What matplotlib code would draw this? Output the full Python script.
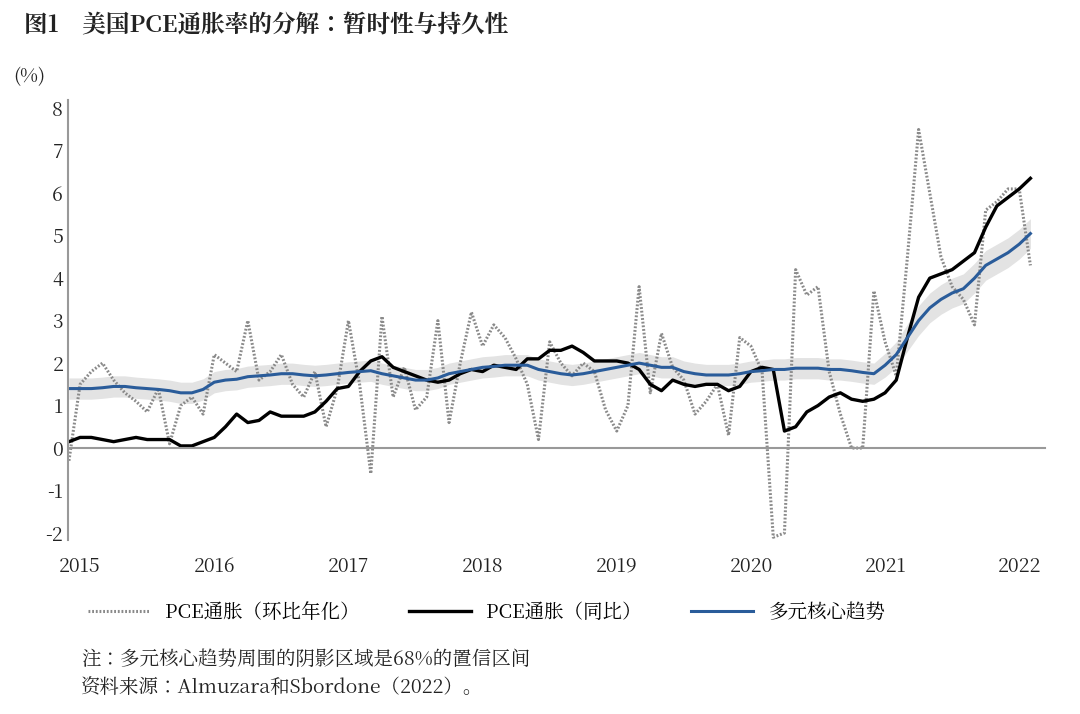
import numpy as np
import pandas as pd
import matplotlib.pyplot as plt
from matplotlib import font_manager

# pick an installed CJK font
cjk = [f.name for f in font_manager.fontManager.ttflist if 'CJK SC' in f.name]
if not cjk:
    cjk = [f.name for f in font_manager.fontManager.ttflist if 'CJK' in f.name]
plt.rcParams['font.family'] = 'sans-serif'
plt.rcParams['font.sans-serif'] = cjk[:1] + ['Noto Sans CJK SC', 'DejaVu Sans']
plt.rcParams['axes.unicode_minus'] = False

# monthly, Dec 2014 - Feb 2022
dates = pd.date_range('2014-12-01', '2022-02-01', freq='MS')

pce_mom = [-0.3,
           1.5, 1.8, 2.0, 1.6, 1.3, 1.1, 0.85, 1.4, 0.1, 1.0, 1.2, 0.8,
           2.2, 2.0, 1.8, 3.0, 1.6, 1.8, 2.2, 1.5, 1.2, 1.8, 0.5, 1.4,
           3.0, 1.5, -0.6, 3.1, 1.2, 1.9, 0.9, 1.2, 3.0, 0.6, 2.0, 3.2,
           2.4, 2.9, 2.6, 2.1, 1.5, 0.2, 2.5, 2.0, 1.7, 2.0, 1.8, 0.9,
           0.4, 1.0, 3.8, 1.3, 2.7, 1.9, 1.6, 0.8, 1.1, 1.5, 0.3, 2.6,
           2.4, 1.8, -2.1, -2.0, 4.2, 3.6, 3.8, 1.8, 0.8, 0.0, 0.0, 3.7,
           2.5, 1.7, 4.5, 7.5, 6.0, 4.5, 3.8, 3.5, 2.9, 5.6, 5.8, 6.1,
           6.1, 4.3]

pce_yoy = [0.15,
           0.25, 0.25, 0.2, 0.15, 0.2, 0.25, 0.2, 0.2, 0.2, 0.05, 0.05, 0.15,
           0.25, 0.5, 0.8, 0.6, 0.65, 0.85, 0.75, 0.75, 0.75, 0.85, 1.1, 1.4,
           1.45, 1.8, 2.05, 2.15, 1.9, 1.8, 1.7, 1.6, 1.55, 1.6, 1.75, 1.85,
           1.8, 1.95, 1.9, 1.85, 2.1, 2.1, 2.3, 2.3, 2.4, 2.25, 2.05, 2.05,
           2.05, 2.0, 1.85, 1.5, 1.35, 1.6, 1.5, 1.45, 1.5, 1.5, 1.35, 1.45,
           1.8, 1.9, 1.85, 0.4, 0.5, 0.85, 1.0, 1.2, 1.3, 1.15, 1.1, 1.15,
           1.3, 1.6, 2.6, 3.55, 4.0, 4.1, 4.2, 4.4, 4.6, 5.2, 5.7, 5.9,
           6.1, 6.35]

trend = [1.4,
         1.4, 1.4, 1.42, 1.45, 1.45, 1.42, 1.4, 1.38, 1.35, 1.3, 1.3, 1.38,
         1.55, 1.6, 1.62, 1.68, 1.7, 1.72, 1.75, 1.75, 1.72, 1.7, 1.72, 1.75,
         1.78, 1.8, 1.82, 1.75, 1.7, 1.65, 1.6, 1.6, 1.65, 1.75, 1.8, 1.85,
         1.9, 1.92, 1.95, 1.95, 1.95, 1.85, 1.8, 1.75, 1.72, 1.75, 1.8, 1.85,
         1.9, 1.95, 2.0, 1.95, 1.9, 1.9, 1.8, 1.75, 1.72, 1.72, 1.72, 1.75,
         1.8, 1.82, 1.85, 1.85, 1.88, 1.88, 1.88, 1.85, 1.85, 1.82, 1.78, 1.75,
         1.95, 2.2, 2.6, 3.0, 3.3, 3.5, 3.65, 3.75, 4.0, 4.3, 4.45, 4.6,
         4.8, 5.05]

band_half = [0.25] * 73 + [0.28, 0.3, 0.32, 0.35, 0.35, 0.35, 0.35, 0.35,
                           0.35, 0.35, 0.35, 0.35, 0.35, 0.35]

x = dates.year + (dates.month - 1) / 12
trend = np.array(trend)
band_half = np.array(band_half)

fig = plt.figure(figsize=(10.8, 7.14), dpi=100)
ax = fig.add_axes([0.063, 0.2437, 0.918, 0.616])

ax.fill_between(x, trend - band_half, trend + band_half, color='#e3e3e3', lw=0)
ax.plot(x, pce_mom, color='#8a8a8a', lw=2.2, ls=(0, (0.6, 0.6)), label='PCE通胀（环比年化）')
ax.plot(x, pce_yoy, color='black', lw=2.4, label='PCE通胀（同比）')
ax.plot(x, trend, color='#2a5c9a', lw=2.2, label='多元核心趋势')
ax.axhline(0, color='#999999', lw=1.5, xmax=0.985)

ax.set_xlim(2014.91, 2022.30)
ax.set_ylim(-2.165, 8.19)
years = list(range(2015, 2023))
ax.set_xticks(years)
ax.set_xticklabels([str(y) for y in years])
ax.set_yticks(range(-2, 9))
ax.tick_params(axis='both', length=0, labelsize=14, colors='#222222')
ax.tick_params(axis='x', pad=12)
for s in ['top', 'right', 'bottom']:
    ax.spines[s].set_visible(False)
ax.spines['left'].set_color('#999999')
ax.spines['left'].set_linewidth(1.5)

fig.text(0.012, 0.885, '(%)', fontsize=14, color='#222222')
fig.text(0.022, 0.955, '图1　美国PCE通胀率的分解：暂时性与持久性', fontsize=17,
         fontweight='bold', color='#222222')
fig.legend(loc='center left', bbox_to_anchor=(0.065, 0.142), ncol=3, frameon=False,
           fontsize=14, handlelength=3.2, columnspacing=2.5)
fig.text(0.075, 0.068, '注：多元核心趋势周围的阴影区域是68%的置信区间', fontsize=14, color='#222222')
fig.text(0.075, 0.028, '资料来源：Almuzara和Sbordone（2022）。', fontsize=14, color='#222222')

fig.savefig('out.png', dpi=100)
